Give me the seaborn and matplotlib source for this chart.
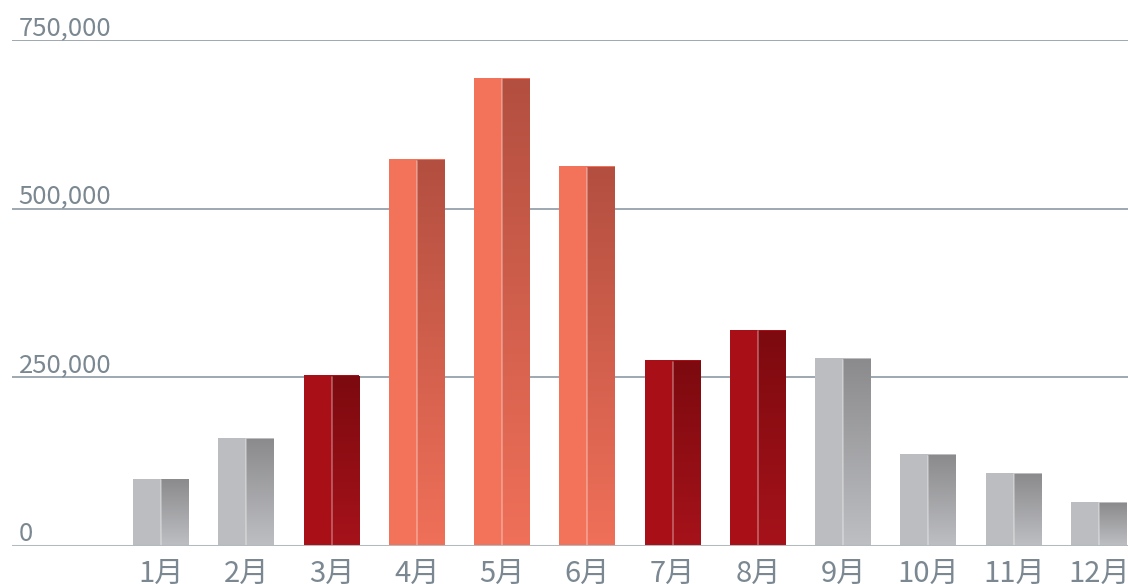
import numpy as np
import seaborn as sns
import matplotlib.pyplot as plt
from matplotlib.colors import LinearSegmentedColormap, to_hex
from matplotlib.transforms import blended_transform_factory

# data
months = ['1月', '2月', '3月', '4月', '5月', '6月', '7月', '8月', '9月', '10月', '11月', '12月']
values = [100000, 160000, 253000, 573000, 694000, 563000, 275000, 320000, 278000, 136000, 108000, 65000]
groups = ['low', 'low', 'mid', 'high', 'high', 'high', 'mid', 'mid', 'low', 'low', 'low', 'low']
yticks = [0, 250000, 500000, 750000]

# flat colour for the left half, gradient (top, bottom) for the right half
flat = {'low': '#bcbdc1', 'mid': '#a80f17', 'high': '#f2725a'}
shade = {'#bcbdc1': ('#8b8b8d', '#bebfc3'),
         '#a80f17': ('#7c0a0f', '#a6121a'),
         '#f2725a': ('#b34f40', '#f07059')}

sns.set_style('white')
plt.rcParams['font.family'] = ['Noto Sans CJK JP', 'DejaVu Sans']

fig = plt.figure(figsize=(11.28, 5.84), dpi=100)
ax = fig.add_axes([12 / 1128, 38 / 584, 1116 / 1128, 506 / 584])

sns.barplot(x=months, y=values, hue=groups, palette=flat, dodge=False,
            width=0.656, saturation=1, legend=False, ax=ax, zorder=3,
            edgecolor='none', linewidth=0)

for p in list(ax.patches):
    h = p.get_height()
    if h <= 0:
        continue
    x0, w = p.get_x(), p.get_width()
    top, bot = shade[to_hex(p.get_facecolor())]
    cmap = LinearSegmentedColormap.from_list('g', [bot, top])
    grad = np.linspace(0, 1, 256).reshape(-1, 1)
    ax.imshow(grad, cmap=cmap, origin='lower', aspect='auto', zorder=4,
              extent=[x0 + w / 2, x0 + w, 0, h - 2000])
    ax.plot([x0 + w / 2, x0 + w / 2], [0, h - 2000], color='white',
            alpha=0.35, lw=1.2, zorder=5)

ax.set_xlim(-1.747, 11.34)
ax.set_ylim(0, 750000)

for s in ax.spines.values():
    s.set_visible(False)

ax.set_yticks(yticks)
ax.set_yticklabels([])
ax.tick_params(axis='y', length=0)
for t in yticks[1:]:
    ax.axhline(t, color='#8e99a3', lw=1.2, zorder=1)
ax.axhline(0, color='#b4b9bd', lw=2.2, zorder=6)

tr = blended_transform_factory(ax.transAxes, ax.transData)
for t in yticks:
    ax.text(0.006, t - 1500, f'{t:,}', transform=tr, ha='left', va='bottom',
            fontsize=18.5, color='#7b8891')

ax.set_xticks(range(len(months)))
ax.set_xticklabels(months, fontsize=21, color='#7b8891')
ax.tick_params(axis='x', length=0, pad=9)
ax.set_xlabel('')

fig.savefig('out.png', dpi=100)
